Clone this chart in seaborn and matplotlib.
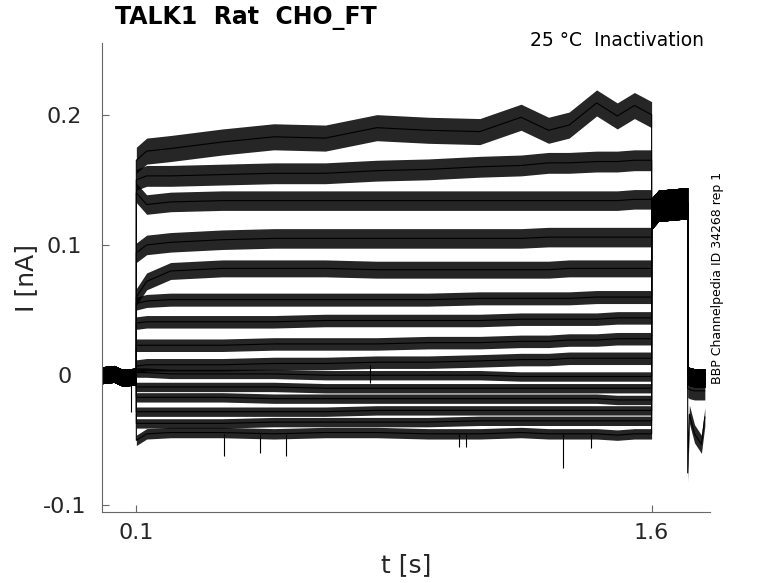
import numpy as np
import pandas as pd
import matplotlib
matplotlib.use('Agg')
import matplotlib.pyplot as plt
import seaborn as sns

# ---- values ----
# holding before the step
pre_t = [0.0, 0.035, 0.06, 0.0999]
pre_level = [0.0, 0.001, -0.002, -0.001]

# conditioning step (0.1 s - 1.6 s): one row per sweep, mean current in nA
step_t = [0.1, 0.13, 0.2, 0.35, 0.5, 0.65, 0.8, 0.95, 1.1, 1.22, 1.3, 1.36, 1.44, 1.5, 1.55, 1.6]
step_levels = [
    [0.165, 0.172, 0.174, 0.179, 0.183, 0.182, 0.190, 0.188, 0.187, 0.198, 0.188, 0.192, 0.209, 0.199, 0.207, 0.200],
    [0.150, 0.153, 0.153, 0.154, 0.155, 0.155, 0.157, 0.158, 0.160, 0.161, 0.163, 0.163, 0.164, 0.164, 0.165, 0.165],
    [0.140, 0.131, 0.133, 0.134, 0.134, 0.134, 0.134, 0.134, 0.134, 0.134, 0.134, 0.134, 0.134, 0.134, 0.135, 0.135],
    [0.094, 0.100, 0.102, 0.104, 0.105, 0.105, 0.105, 0.105, 0.105, 0.105, 0.106, 0.106, 0.106, 0.106, 0.106, 0.106],
    [0.060, 0.072, 0.080, 0.082, 0.082, 0.082, 0.081, 0.081, 0.081, 0.081, 0.081, 0.082, 0.082, 0.082, 0.082, 0.082],
    [0.055, 0.057, 0.058, 0.058, 0.058, 0.058, 0.058, 0.058, 0.059, 0.059, 0.059, 0.059, 0.060, 0.060, 0.060, 0.060],
    [0.040, 0.041, 0.041, 0.041, 0.041, 0.042, 0.042, 0.042, 0.042, 0.043, 0.043, 0.043, 0.043, 0.044, 0.044, 0.044],
    [0.023, 0.023, 0.023, 0.023, 0.024, 0.024, 0.024, 0.025, 0.025, 0.026, 0.026, 0.027, 0.027, 0.028, 0.028, 0.028],
    [0.007, 0.008, 0.008, 0.008, 0.009, 0.009, 0.010, 0.010, 0.011, 0.012, 0.012, 0.013, 0.013, 0.013, 0.013, 0.013],
    [0.002, 0.002, 0.001, 0.001, 0.001, 0.000, 0.000, 0.000, 0.000, -0.001, -0.001, -0.001, -0.001, -0.001, -0.001, -0.001],
    [-0.009, -0.009, -0.009, -0.009, -0.009, -0.010, -0.010, -0.010, -0.010, -0.010, -0.010, -0.010, -0.010, -0.010, -0.010, -0.010],
    [-0.017, -0.017, -0.017, -0.017, -0.018, -0.018, -0.018, -0.018, -0.018, -0.018, -0.018, -0.018, -0.018, -0.019, -0.019, -0.019],
    [-0.028, -0.028, -0.028, -0.028, -0.028, -0.028, -0.027, -0.027, -0.027, -0.027, -0.027, -0.027, -0.027, -0.027, -0.027, -0.027],
    [-0.037, -0.037, -0.037, -0.037, -0.036, -0.036, -0.036, -0.036, -0.035, -0.035, -0.035, -0.035, -0.035, -0.035, -0.035, -0.035],
    [-0.050, -0.045, -0.044, -0.044, -0.045, -0.044, -0.044, -0.045, -0.045, -0.044, -0.045, -0.045, -0.045, -0.046, -0.045, -0.045],
]
# half height of the noise band of each sweep during the step (nA)
step_noise = [0.010, 0.008, 0.0075, 0.0075, 0.0065, 0.005, 0.0048, 0.0048, 0.0048,
              0.0036, 0.0036, 0.0036, 0.0036, 0.0036, 0.004]

# test pulse, all sweeps land on the same level
test_t = [1.6001, 1.62, 1.66, 1.705]
test_level = [0.124, 0.130, 0.131, 0.132]

# back to holding
post_t = [1.7051, 1.71, 1.725, 1.745, 1.755]
post_rest = [0.0, -0.001, -0.002, -0.002, -0.002]
post_tail = [-0.075, -0.030, -0.045, -0.053, -0.032]
tail_sweeps = [14]
notch_sweeps = [13]
post_notch = [-0.010, -0.011, -0.012, -0.012, -0.012]

pre_noise, test_noise, post_noise = 0.0065, 0.012, 0.007

# single-sample spikes (t, top, bottom)
spike_t = [0.085, 0.355, 0.46, 0.535, 1.04, 1.06, 1.341, 1.425, 0.78]
spike_top = [-0.005, -0.045, -0.045, -0.045, -0.045, -0.045, -0.045, -0.045, 0.008]
spike_bottom = [-0.028, -0.062, -0.060, -0.062, -0.055, -0.055, -0.071, -0.056, -0.006]

# ---- long table: upper/lower edge of each sweep's band ----
rows = []
for k in range(len(step_levels)):
    if k in tail_sweeps:
        post = post_tail
    elif k in notch_sweeps:
        post = post_notch
    else:
        post = post_rest
    t_all = pre_t + step_t + test_t + post_t
    lev = pre_level + step_levels[k] + test_level + post
    half = ([pre_noise] * len(pre_t) + [step_noise[k]] * len(step_t)
            + [test_noise] * len(test_t) + [post_noise] * len(post_t))
    for t, v, h in zip(t_all, lev, half):
        rows.append((k, t, v + h))
        rows.append((k, t, v - h))
df = pd.DataFrame(rows, columns=['sweep', 't', 'I'])

sns.set_style('white')
plt.rcParams['font.family'] = ['DejaVu Sans']

fig = plt.figure(figsize=(7.78, 5.83), dpi=100)
ax = fig.add_axes([102 / 778, 1 - 512 / 583, 608 / 778, 469 / 583])

for k, d in df.groupby('sweep'):
    sns.lineplot(data=d, x='t', y='I', estimator='mean', errorbar=('pi', 100),
                 color='black', linewidth=0.8, ax=ax,
                 err_kws={'alpha': 0.85, 'linewidth': 0})

ax.vlines(spike_t, spike_bottom, spike_top, color='black', linewidth=0.8)

ax.set_xlim(0.0, 1.77)
ax.set_ylim(-0.105, 0.255)
ax.set_xticks([0.1, 1.6])
ax.set_xticklabels(['0.1', '1.6'])
ax.set_yticks([-0.1, 0, 0.1, 0.2])
ax.set_yticklabels(['-0.1', '0', '0.1', '0.2'])
ax.tick_params(bottom=True, left=True, direction='in', length=5, width=0.8,
               color='#666666', labelsize=16, labelcolor='#262626')
ax.tick_params(axis='x', pad=8)
# y tick labels are centred in a column left of the axis
ax.tick_params(axis='y', pad=27)
for lab in ax.get_yticklabels():
    lab.set_horizontalalignment('center')
for s in ['top', 'right']:
    ax.spines[s].set_visible(False)
for s in ['left', 'bottom']:
    ax.spines[s].set_color('#666666')
    ax.spines[s].set_linewidth(0.8)

ax.set_xlabel('t [s]', fontsize=18, color='#262626', labelpad=7)
ax.set_ylabel('I [nA]', fontsize=18, color='#262626')
ax.yaxis.set_label_coords(-0.105, 0.5)

fig.text(115 / 778, 1 - 18 / 583, 'TALK1  Rat  CHO_FT', fontsize=17,
         fontweight='bold', color='black', ha='left', va='center')
fig.text(704 / 778, 1 - 40.5 / 583, '25 °C  Inactivation', fontsize=13.5,
         color='black', ha='right', va='center')
fig.text(717 / 778, 1 - 278 / 583, 'BBP Channelpedia ID 34268 rep 1',
         fontsize=9, color='black', rotation=90, ha='center', va='center')

fig.savefig('out.png', dpi=100)
